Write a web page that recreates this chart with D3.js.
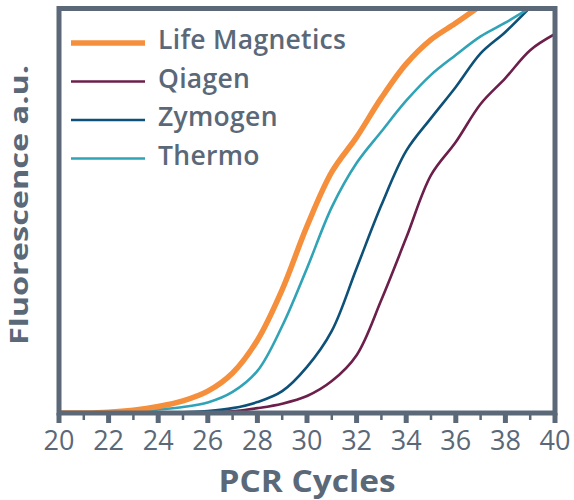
<!DOCTYPE html>
<html><head><meta charset="utf-8">
<script src="https://cdn.jsdelivr.net/npm/d3@7/dist/d3.min.js"></script>
<style>body{margin:0;background:#fff}svg{display:block}</style>
</head><body><svg id="chart" width="574" height="500"></svg>
<script>
// ---- data ----
const cycles = d3.range(20, 41);
const seriesNames = ["Life Magnetics", "Qiagen", "Zymogen", "Thermo"];
const lifeMagnetics = [0,0,0.2,0.7,1.6,3.0,5.4,9.9,18.0,30.5,46.2,59.6,68.2,77.9,86.3,92.3,96.4,100.7,null,null,null];
const qiagen        = [0,0,0,0,0,0,0.1,0.4,1.2,2.3,4.2,7.9,14.3,28.0,43.3,58.8,67.0,76.4,82.8,89.7,93.7];
const zymogen       = [0,0,0,0,0,0.2,0.5,1.2,2.7,5.4,11.4,20.3,35.8,51.4,64.8,72.9,80.6,88.9,94.2,100.3,null];
const thermo        = [0,0,0.1,0.4,0.9,1.5,2.6,5.2,10.4,21.5,35.8,50.9,61.8,69.6,77.2,83.6,88.5,93.1,96.5,100.2,null];
const xTickLabels = ["20","22","24","26","28","30","32","34","36","38","40"];
const xTitle = "PCR Cycles";
const yTitle = "Fluorescence a.u.";

// ---- styles ----
const colors = {"Life Magnetics":"#f58f3b","Qiagen":"#6c1f4a","Zymogen":"#0d5179","Thermo":"#30a3b7"};
const widths = {"Life Magnetics":5.5,"Qiagen":2.6,"Zymogen":2.6,"Thermo":2.6};
const frameColor = "#5a6878";
const textColor = "#5a6878";
const fontFamily = "'Open Sans', sans-serif";

const valuesBySeries = {"Life Magnetics":lifeMagnetics,"Qiagen":qiagen,"Zymogen":zymogen,"Thermo":thermo};

const svg = d3.select("#chart");
const pL = 59, pR = 555, pT = 8.5, pB = 413;
const x = d3.scaleLinear().domain([20, 40]).range([pL, pR]);
const y = d3.scaleLinear().domain([0, 100]).range([pB, pT]);

svg.append("defs").append("clipPath").attr("id","plotclip")
  .append("rect").attr("x", pL).attr("y", pT + 2).attr("width", pR - pL).attr("height", pB - pT);

const line = d3.line()
  .defined(d => d.v !== null)
  .x(d => x(d.c)).y(d => y(Math.max(0, d.v)))
  .curve(d3.curveCatmullRom.alpha(0.5));

const drawOrder = ["Qiagen","Zymogen","Thermo","Life Magnetics"];
const g = svg.append("g").attr("clip-path","url(#plotclip)");
drawOrder.forEach(name => {
  const pts = cycles.map((c, i) => ({c, v: valuesBySeries[name][i]}));
  g.append("path").datum(pts)
    .attr("d", line)
    .attr("fill","none")
    .attr("stroke", colors[name])
    .attr("stroke-width", widths[name])
    .attr("stroke-linejoin","round");
});

// axis ticks
const xAxis = svg.append("g");
d3.range(21, 40, 2).forEach(c => {
  xAxis.append("line").attr("x1", x(c)).attr("x2", x(c)).attr("y1", pB).attr("y2", pB + 7)
    .attr("stroke", frameColor).attr("stroke-width", 2.5);
});
xTickLabels.forEach(t => {
  const c = +t;
  xAxis.append("line").attr("x1", x(c)).attr("x2", x(c)).attr("y1", pB).attr("y2", pB + 10)
    .attr("stroke", frameColor).attr("stroke-width", 5);
  xAxis.append("text").attr("x", x(c)).attr("y", 450)
    .attr("text-anchor","middle").attr("fill", textColor)
    .style("font-family", fontFamily).style("font-size","27px")
    .text(t);
});

// frame
svg.append("rect").attr("x", pL).attr("y", pT).attr("width", pR - pL).attr("height", pB - pT)
  .attr("fill","none").attr("stroke", frameColor).attr("stroke-width", 5);

// titles
svg.append("text").attr("x", (pL + pR) / 2).attr("y", 492)
  .attr("text-anchor","middle").attr("fill", textColor)
  .attr("textLength", 177).attr("lengthAdjust", "spacingAndGlyphs")
  .style("font-family", fontFamily).style("font-size","30px").style("font-weight","700")
  .text(xTitle);
svg.append("text").attr("transform","translate(27.5,205) rotate(-90)")
  .attr("text-anchor","middle").attr("fill", textColor)
  .attr("textLength", 280).attr("lengthAdjust", "spacingAndGlyphs")
  .style("font-family", fontFamily).style("font-size","25.5px").style("font-weight","700")
  .text(yTitle);

// legend
const legendY = [43, 81.5, 120, 158.5];
const legend = svg.append("g");
seriesNames.forEach((name, i) => {
  legend.append("line").attr("x1", 71).attr("x2", 145).attr("y1", legendY[i]).attr("y2", legendY[i])
    .attr("stroke", colors[name]).attr("stroke-width", widths[name]);
  legend.append("text").attr("x", 158).attr("y", legendY[i] + 6)
    .attr("fill", textColor)
    .style("font-family", fontFamily).style("font-size","26.5px").style("font-weight","600")
    .style("letter-spacing","0.3px")
    .text(name);
});
</script>
</body></html>
